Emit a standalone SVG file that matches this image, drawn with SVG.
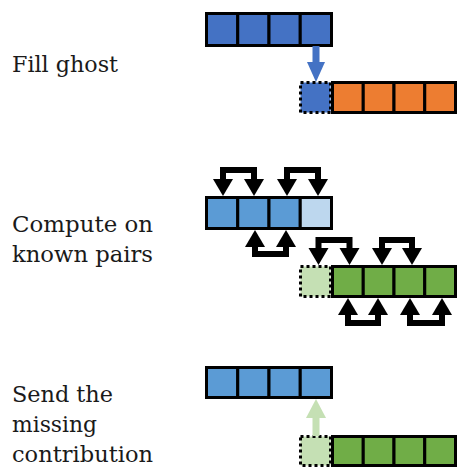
<svg xmlns="http://www.w3.org/2000/svg" width="458" height="468" viewBox="0 0 458 468">
<style>
.lbl{font-family:"DejaVu Serif","Liberation Serif",serif;font-size:23px;fill:#1a1a1a}
.c{stroke:#000;stroke-width:3}
.ghost{stroke:#000;stroke-width:3;stroke-dasharray:3 3}
.b1{fill:#4472C4}.b2{fill:#5B9BD5}.b3{fill:#BDD7EE}
.or{fill:#ED7D31}.g{fill:#70AD47}.lg{fill:#C5E0B4}
.br{fill:none;stroke:#000;stroke-width:6;stroke-linejoin:miter}
.hd{fill:#000}
</style>
<rect width="458" height="468" fill="#fff"/>
<g id="labels">
<text class="lbl" x="12" y="72" textLength="106" lengthAdjust="spacingAndGlyphs">Fill ghost</text>
<text class="lbl" x="12" y="232" textLength="141" lengthAdjust="spacingAndGlyphs">Compute on</text>
<text class="lbl" x="12" y="262" textLength="141" lengthAdjust="spacingAndGlyphs">known pairs</text>
<text class="lbl" x="12" y="402" textLength="101" lengthAdjust="spacingAndGlyphs">Send the</text>
<text class="lbl" x="12" y="432" textLength="85" lengthAdjust="spacingAndGlyphs">missing</text>
<text class="lbl" x="12" y="462" textLength="141" lengthAdjust="spacingAndGlyphs">contribution</text>
</g>
<g id="top-blue">
<rect class="c b1" x="206.5" y="13.5" width="31.25" height="32"/>
<rect class="c b1" x="237.75" y="13.5" width="31.25" height="32"/>
<rect class="c b1" x="269" y="13.5" width="31.25" height="32"/>
<rect class="c b1" x="300.25" y="13.5" width="31.25" height="32"/>
</g>
<g id="top-orange">
<rect class="ghost b1" x="300.5" y="82.5" width="30" height="30"/>
<rect class="c or" x="332.5" y="82.5" width="30.75" height="30"/>
<rect class="c or" x="363.25" y="82.5" width="30.75" height="30"/>
<rect class="c or" x="394" y="82.5" width="30.75" height="30"/>
<rect class="c or" x="424.75" y="82.5" width="30.75" height="30"/>
</g>
<g id="mid-blue">
<rect class="c b2" x="206.5" y="197.5" width="31.25" height="31"/>
<rect class="c b2" x="237.75" y="197.5" width="31.25" height="31"/>
<rect class="c b2" x="269" y="197.5" width="31.25" height="31"/>
<rect class="c b3" x="300.25" y="197.5" width="31.25" height="31"/>
</g>
<g id="mid-green">
<rect class="ghost lg" x="300.5" y="266.5" width="30" height="30"/>
<rect class="c g" x="332.5" y="266.5" width="30.75" height="30"/>
<rect class="c g" x="363.25" y="266.5" width="30.75" height="30"/>
<rect class="c g" x="394" y="266.5" width="30.75" height="30"/>
<rect class="c g" x="424.75" y="266.5" width="30.75" height="30"/>
</g>
<g id="bot-blue">
<rect class="c b2" x="206.5" y="367.5" width="31.25" height="30"/>
<rect class="c b2" x="237.75" y="367.5" width="31.25" height="30"/>
<rect class="c b2" x="269" y="367.5" width="31.25" height="30"/>
<rect class="c b2" x="300.25" y="367.5" width="31.25" height="30"/>
</g>
<g id="bot-green">
<rect class="ghost lg" x="300.5" y="436.5" width="30" height="29"/>
<rect class="c g" x="332.5" y="436.5" width="30.75" height="29"/>
<rect class="c g" x="363.25" y="436.5" width="30.75" height="29"/>
<rect class="c g" x="394" y="436.5" width="30.75" height="29"/>
<rect class="c g" x="424.75" y="436.5" width="30.75" height="29"/>
</g>
<g id="connectors">
<rect x="312.5" y="46" width="7" height="17" fill="#4472C4"/>
<polygon points="307,62 325,62 316,82" fill="#4472C4"/>
<rect x="312.5" y="417" width="7" height="19" fill="#C5E0B4"/>
<polygon points="306,418 326,418 316,399" fill="#C5E0B4"/>
<path class="br" d="M223,180 V170 H254 V180"/>
<polygon class="hd" points="213,179 233,179 223,196"/>
<polygon class="hd" points="244,179 264,179 254,196"/>
<path class="br" d="M287,180 V170 H318 V180"/>
<polygon class="hd" points="277,179 297,179 287,196"/>
<polygon class="hd" points="308,179 328,179 318,196"/>
<path class="br" d="M255,246 V254 H286 V246"/>
<polygon class="hd" points="245,247 265,247 255,230"/>
<polygon class="hd" points="276,247 296,247 286,230"/>
<path class="br" d="M318.5,249 V240 H349.5 V249"/>
<polygon class="hd" points="308.5,248 328.5,248 318.5,265"/>
<polygon class="hd" points="339.5,248 359.5,248 349.5,265"/>
<path class="br" d="M382,249 V240 H412 V249"/>
<polygon class="hd" points="372,248 392,248 382,265"/>
<polygon class="hd" points="402,248 422,248 412,265"/>
<path class="br" d="M348,314 V323 H378 V314"/>
<polygon class="hd" points="338,315 358,315 348,298"/>
<polygon class="hd" points="368,315 388,315 378,298"/>
<path class="br" d="M410,314 V323 H442 V314"/>
<polygon class="hd" points="400,315 420,315 410,298"/>
<polygon class="hd" points="432,315 452,315 442,298"/>
</g>
</svg>
